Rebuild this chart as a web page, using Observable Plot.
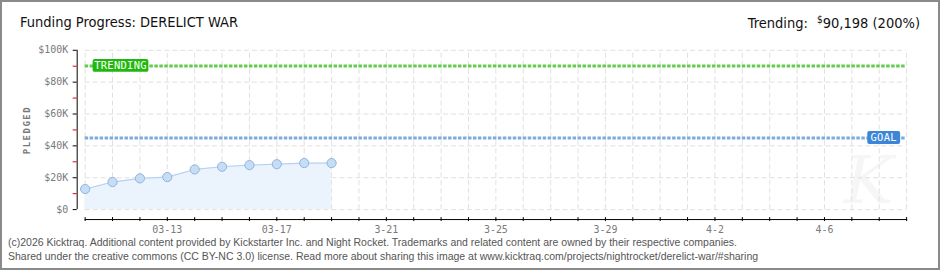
<!DOCTYPE html>
<html>
<head>
<meta charset="utf-8">
<script src="https://cdn.jsdelivr.net/npm/d3@7"></script>
<script src="https://cdn.jsdelivr.net/npm/@observablehq/plot@0.6"></script>
<style>
  body { margin: 0; background: #fff; }
  #card { position: relative; width: 940px; height: 270px; box-sizing: border-box; border: 2px solid #8a8a8a; overflow: hidden; background: #fff; }
  #card > svg { position: absolute; left: -2px; top: -2px; }
  #title { position: absolute; left: 18px; top: 12px; font: 14.5px "DejaVu Sans Condensed", "DejaVu Sans", sans-serif; color: #111; white-space: nowrap; }
  #trend { position: absolute; right: 18px; top: 12px; font: 14.5px "DejaVu Sans Condensed", "DejaVu Sans", sans-serif; color: #111; white-space: nowrap; }
  #trend sup { font-size: 10px; vertical-align: 5px; margin-left: 5px; }
  #ylabel { position: absolute; left: 25px; top: 123px; transform: rotate(-90deg); transform-origin: center; width: 60px; margin-left: -30px; text-align: center; font: bold 9px "DejaVu Sans Mono", monospace; letter-spacing: 1.5px; color: #777; }
  #foot { position: absolute; left: 6px; top: 233px; font: 10.5px "Liberation Sans", Arial, sans-serif; color: #555; line-height: 14px; white-space: nowrap; }
  #mark { position: absolute; left: 842px; top: 146px; font: italic 66px "DejaVu Serif", serif; line-height: 66px; color: #f6f6f6; }
</style>
</head>
<body>
<div id="card">
  <div id="mark">K</div>
  <div id="title"></div>
  <div id="trend"></div>
  <div id="ylabel">PLEDGED</div>
  <div id="foot">(c)2026 Kicktraq. Additional content provided by Kickstarter Inc. and Night Rocket. Trademarks and related content are owned by their respective companies.<br>Shared under the creative commons (CC BY-NC 3.0) license. Read more about sharing this image at www.kicktraq.com/projects/nightrocket/derelict-war/#sharing</div>
</div>
<script>
// Daily pledge totals for the campaign
const projectName = "DERELICT WAR";
const days = ["2026-03-10", "2026-03-11", "2026-03-12", "2026-03-13", "2026-03-14",
              "2026-03-15", "2026-03-16", "2026-03-17", "2026-03-18", "2026-03-19"];
const pledged = [12900, 17300, 19600, 20400, 25200, 26900, 27900, 28500, 29200, 29200];
const goal = 45000;
const trending = 90198;

// Axis setup
const axisStart = "2026-03-10";
const axisEnd = "2026-04-09";
const xTickDates = ["2026-03-13", "2026-03-17", "2026-03-21", "2026-03-25", "2026-03-29", "2026-04-02", "2026-04-06"];
const xTickLabels = ["03-13", "03-17", "3-21", "3-25", "3-29", "4-2", "4-6"];
const yTicks = [0, 20000, 40000, 60000, 80000, 100000];
const yTickLabels = ["$0", "$20K", "$40K", "$60K", "$80K", "$100K"];
const yMinorTicks = [10000, 30000, 50000, 70000, 90000];

document.getElementById("title").textContent = "Funding Progress: " + projectName;
const pct = Math.round(trending / goal * 100);
document.getElementById("trend").innerHTML =
  "Trending: <sup>$</sup>" + d3.format(",")(trending) + " (" + pct + "%)";

const x0 = new Date(axisStart), x1 = new Date(axisEnd);
const gridDays = d3.utcDay.range(x0, d3.utcDay.offset(x1, 1));
const rows = days.map((d, i) => ({date: new Date(d), value: pledged[i]}));
const yLabelOf = new Map(yTicks.map((v, i) => [v, yTickLabels[i]]));
const xLabelOf = new Map(xTickDates.map((d, i) => [new Date(d).getTime(), xTickLabels[i]]));

// Rounded tag sitting on a horizontal reference line
function badge(value, label, color, width, side) {
  return (index, scales, values, dims) => {
    const y = scales.y(value);
    const h = 13;
    const left = side === "left" ? dims.marginLeft + 8 : dims.width - dims.marginRight - 6 - width;
    const g = d3.create("svg:g");
    g.append("rect").attr("x", left).attr("y", y - h / 2).attr("width", width).attr("height", h)
      .attr("rx", 2).attr("fill", color);
    g.append("text").attr("x", left + width / 2).attr("y", y + 0.5)
      .attr("text-anchor", "middle").attr("dominant-baseline", "middle")
      .attr("fill", "#fff").attr("font-family", "DejaVu Sans Mono, monospace")
      .attr("font-size", 10.5).attr("letter-spacing", 0.3)
      .text(label);
    return g.node();
  };
}

const font = "DejaVu Sans Mono, monospace";
const chart = Plot.plot({
  width: 940,
  height: 270,
  marginLeft: 85,
  marginRight: 30,
  marginTop: 50,
  marginBottom: 50,
  insetBottom: 10,
  x: {type: "utc", domain: [x0, x1], axis: null, label: null},
  y: {domain: [0, 100000], axis: null, label: null},
  style: {background: "transparent", overflow: "visible"},
  marks: [
    Plot.ruleY(yTicks, {stroke: "#e0e0e0", strokeDasharray: "5,3"}),
    Plot.ruleX(gridDays, {y1: 0, y2: 100000, stroke: "#e0e0e0", strokeDasharray: "5,3"}),
    Plot.areaY(rows, {x: "date", y: "value", fill: "#ebf3fc"}),
    Plot.lineY(rows, {x: "date", y: "value", stroke: "#b7d3f1", strokeWidth: 1.2}),
    Plot.ruleY([goal], {stroke: "#7eaadd", strokeWidth: 3, strokeDasharray: "3.5,1.5"}),
    Plot.ruleY([trending], {stroke: "#63cb4e", strokeWidth: 3, strokeDasharray: "3.5,1.5"}),
    Plot.dot(rows, {x: "date", y: "value", r: 4.6, fill: "#c6ddf6", stroke: "#92b2d8", strokeWidth: 1}),
    // y axis
    Plot.ruleX([x0], {y1: 0, y2: 100000, dx: -8, stroke: "#000"}),
    Plot.axisY({ticks: yTicks, tickSize: 4, dx: -8, stroke: "#000", text: null, label: null}),
    Plot.axisY({ticks: yMinorTicks, tickSize: 4, dx: -8, stroke: "#e00000", text: null, label: null}),
    Plot.axisY({ticks: yTicks, tickSize: 0, dx: -8, tickPadding: 9, tickFormat: d => yLabelOf.get(d),
                fill: "#7a7a7a", fontSize: 10, fontFamily: font, label: null}),
    // x axis
    Plot.frame({anchor: "bottom", stroke: "#000"}),
    Plot.axisX({ticks: gridDays, tickSize: 4, dy: -2, stroke: "#000", text: null, label: null}),
    Plot.axisX({ticks: xTickDates.map(d => new Date(d)), tickSize: 0, tickPadding: 6,
                tickFormat: d => xLabelOf.get(d.getTime()), fill: "#7a7a7a", fontSize: 10, fontFamily: font, label: null}),
    badge(trending, "TRENDING", "#1fb80f", 56, "left"),
    badge(goal, "GOAL", "#3b86d6", 33, "right")
  ]
});
document.getElementById("card").appendChild(chart);
</script>
</body>
</html>
